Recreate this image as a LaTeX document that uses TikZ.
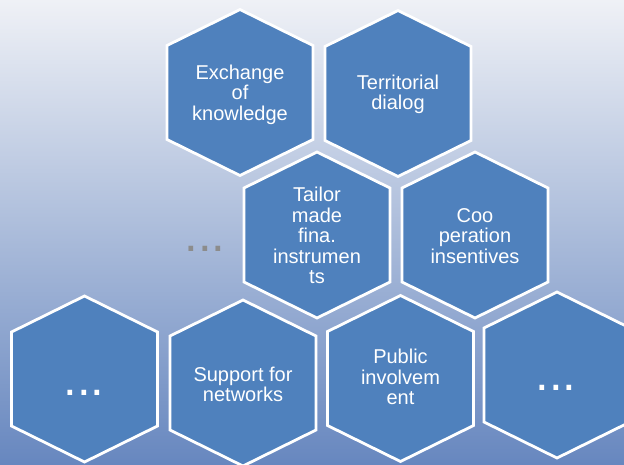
\documentclass[tikz,border=0pt]{standalone}
\usepackage{fontspec}
\setmainfont{Liberation Sans}
\definecolor{fondhaut}{HTML}{EFF1F6}
\definecolor{fondbas}{HTML}{6787BF}
\definecolor{hexbleu}{HTML}{4F81BD}
\definecolor{pointsgris}{HTML}{8C8C8C}
\tikzset{
  hexa/.style={fill=hexbleu,draw=white,line width=2.8pt,line join=miter},
  texte/.style={text=white,align=center,inner sep=0pt,font=\fontsize{20}{20.4}\selectfont},
  points/.style={inner sep=0pt,font=\fontsize{49}{49}\selectfont},
}
\begin{document}
\begin{tikzpicture}[x=1pt,y=-1pt] % repere en pixels, y vers le bas

\useasboundingbox (0,0) rectangle (624,464);
\clip (0,0) rectangle (624,464);
\shade[top color=fondhaut,bottom color=fondbas] (0,0) rectangle (624,464);

\foreach \cx/\cy in {240/92.5,398/93.5,317/235,475/235,84.5/379,243/383,400.5/378.5,557/375} % alveoles
{
	\draw[hexa] (\cx,\cy-83) -- ++(73,36) -- ++(0,94) -- ++(-73,36) -- ++(-73,-36) -- ++(0,-94) -- cycle;
}

\node[texte] (echange) at (240,94.5) {Exchange\\of\\knowledge};
\node[texte] (dialogue) at (398,94.5) {Territorial\\dialog};
\node[texte] (financement) at (317,235.5) {Tailor\\made\\fina.\\instrumen\\ts};
\node[texte] (cooperation) at (475,236) {Coo\\peration\\insentives};
\node[texte] (reseaux) at (243,384.5) {Support for\\networks};
\node[texte] (public) at (400.5,377) {Public\\involvem\\ent};

\node[points,text=pointsgris] (suite) at (205,248.5) {...};
\node[points,text=white] (autreg) at (84,392.5) {...};
\node[points,text=white] (autred) at (556,387.5) {...};

\end{tikzpicture}
\end{document}
